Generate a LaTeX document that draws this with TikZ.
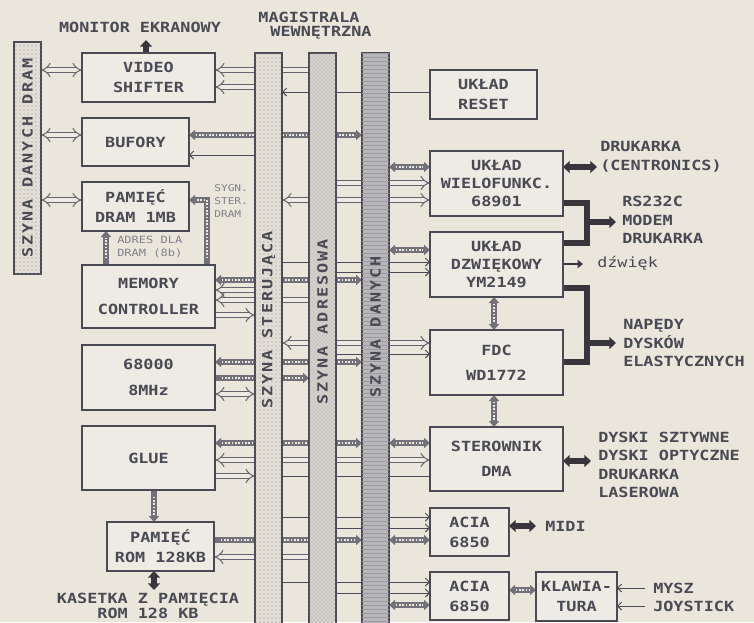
\documentclass[tikz,border=0pt]{standalone}
\usepackage{fontspec}
\usetikzlibrary{arrows.meta,patterns}
\newfontfamily\dm[FakeStretch=1.2]{DejaVu Sans Mono}
\newfontfamily\dmw[FakeStretch=1.2,LetterSpace=14]{DejaVu Sans Mono}
\definecolor{bgc}{HTML}{EAE6DC}
\definecolor{boxc}{HTML}{EEEBE4}
\definecolor{ink}{HTML}{4A4A54}
\definecolor{barc}{HTML}{727078}
\definecolor{darkc}{HTML}{38363C}
\definecolor{busl}{HTML}{E2DED6}
\definecolor{busm}{HTML}{D6D2CC}
\definecolor{busd}{HTML}{B8B6B8}
\pgfdeclarelayer{back}
\pgfdeclarelayer{wires}
\pgfsetlayers{back,wires,main}
\newcommand\mybox[6]{\node[boxst, minimum width={(#4-#2)*0.75pt}, minimum height={(#5-#3)*0.75pt}] (#1) at (#2,#3) {#6};}
\newcommand\mybus[6]{\node[busst, #6, minimum width={(#4-#2)*0.75pt}, minimum height={(#5-#3)*0.75pt}] (#1) at (#2,#3) {};}
\tikzset{
  tipH/.tip={Triangle[length=4.5pt,width=7.5pt]},
  tipB/.tip={Triangle[length=5pt,width=9pt]},
  tipT/.tip={Straight Barb[length=3pt,width=6pt]},
  tipO/.tip={Implies[length=4.5pt]},
  boxst/.style={draw=ink, line width=0.9pt, fill=boxc, anchor=north west, inner sep=0pt, outer sep=0pt,
     font=\dm\bfseries\fontsize{10.5}{15}\selectfont, text=ink, align=center},
  busst/.style={draw=ink, line width=0.8pt, anchor=north west, inner sep=0pt, outer sep=0pt},
  lbl/.style={font=\dm\bfseries\fontsize{10.5}{14}\selectfont, text=ink, inner sep=0pt},
  rlbl/.style={lbl, anchor=west, align=left},
  small/.style={font=\dm\fontsize{7.5}{9.5}\selectfont, text=ink!70, inner sep=0pt, anchor=west, align=left},
  buslbl/.style={font=\dmw\bfseries\fontsize{10.5}{14}\selectfont, text=ink, rotate=90, inner sep=0pt},
  hol/.style={draw=ink!85, double=boxc, double distance=3pt, line width=0.75pt},
  hat/.style={draw=barc, line width=3.8pt,
     postaction={draw=boxc, line width=0.9pt, dash pattern=on 1.2pt off 1.3pt, arrows=-, shorten >=5pt, shorten <=5pt}},
  thn/.style={draw=ink, line width=0.7pt},
  blk/.style={draw=darkc, line width=4.5pt},
}
\begin{document}
\begin{tikzpicture}[x=0.75pt,y=-0.75pt]
\useasboundingbox (0,0) rectangle (754,622);
\begin{pgfonlayer}{back}
\fill[bgc] (0,0) rectangle (754,622);
\end{pgfonlayer}

% buses
\mybus{drambus}{14}{42}{41}{274}{fill=busl, postaction={pattern=dots, pattern color=ink!60}}
\mybus{ster}{255}{53}{282}{640}{fill=busl, postaction={pattern=dots, pattern color=ink!60}}
\mybus{adr}{309}{53}{336}{640}{fill=busm, postaction={pattern=crosshatch dots, pattern color=ink!55}}
\mybus{dat}{362}{53}{389}{640}{fill=busd, postaction={pattern=horizontal lines, pattern color=ink!55}}

% boxes
\mybox{vs}{82}{53}{215}{102}{VIDEO\\SHIFTER}
\mybox{buf}{82}{118}{189}{166}{BUFORY}
\mybox{dram}{82}{182}{189}{231}{PAMIĘĆ\\DRAM 1MB}
\mybox{mc}{82}{265}{215}{328}{MEMORY\\[4pt]CONTROLLER}
\mybox{cpu}{82}{345}{215}{410}{68000\\[4pt]8MHz}
\mybox{glue}{82}{426}{215}{490}{GLUE}
\mybox{rom}{107}{522}{214}{571}{PAMIĘĆ\\ROM 128KB}
\mybox{reset}{430}{70}{537}{119}{UKŁAD\\RESET}
\mybox{mfp}{430}{151}{563}{216}{UKŁAD\\[-1.5pt]WIELOFUNKC.\\[-1.5pt]68901}
\mybox{snd}{430}{232}{563}{297}{UKŁAD\\[-1.5pt]DZWIĘKOWY\\[-1.5pt]YM2149}
\mybox{fdc}{430}{330}{563}{395}{FDC\\[4pt]WD1772}
\mybox{dma}{430}{427}{563}{491}{STEROWNIK\\[4pt]DMA}
\mybox{aciaa}{430}{508}{509}{556}{ACIA\\6850}
\mybox{aciab}{430}{572}{509}{620}{ACIA\\6850}
\mybox{kbd}{536}{572}{617}{621}{KLAWIA-\\TURA}

% bus labels
\node[buslbl] at (drambus.center) {SZYNA DANYCH DRAM};
\node[buslbl] at (ster.center |- 0,320) {SZYNA STERUJĄCA};
\node[buslbl] at (adr.center |- 0,322) {SZYNA ADRESOWA};
\node[buslbl] at (dat.center |- 0,327) {SZYNA DANYCH};

% titles and outside labels
\node[lbl] (tmon) at (140,27) {MONITOR EKRANOWY};
\node[lbl] (tmag) at (309,17) {MAGISTRALA};
\node[lbl] (twew) at (321,33) {WEWNĘTRZNA};
\node[rlbl] (tcen) at (600,157) {DRUKARKA\\(CENTRONICS)};
\node[rlbl] (trs) at (622,220) {RS232C\\MODEM\\DRUKARKA};
\node[lbl, anchor=west, font=\dm\fontsize{10.5}{14}\selectfont] (tdz) at (597,263) {dźwięk};
\node[rlbl] (tnap) at (623,343) {NAPĘDY\\DYSKÓW\\ELASTYCZNYCH};
\node[rlbl, font=\dm\bfseries\fontsize{10.5}{13.7}\selectfont] (tdys) at (598,465) {DYSKI SZTYWNE\\DYSKI OPTYCZNE\\DRUKARKA\\LASEROWA};
\node[rlbl] (tmidi) at (545,526) {MIDI};
\node[rlbl] (tmysz) at (653,588) {MYSZ};
\node[rlbl] (tjoy) at (653,606) {JOYSTICK};
\node[lbl] (tkas) at (148,600) {KASETKA Z PAMIĘCIA};
\node[lbl] (trom) at (148,613) {ROM 128 KB};
\node[small] (tadr) at (117,247) {ADRES DLA\\DRAM (8b)};
\node[small, font=\dm\fontsize{7}{10}\selectfont] (tsyg) at (214,201) {SYGN.\\STER.\\DRAM};

\coordinate (mon) at (146,40);
\coordinate (cen) at (597,167);
\coordinate (rsb) at (587,222);
\coordinate (rse) at (616,222);
\coordinate (dze) at (583,264);
\coordinate (npb) at (587,343);
\coordinate (npe) at (616,343);
\coordinate (dye) at (591,461);
\coordinate (mie) at (536,526);
\coordinate (mys) at (645,588);
\coordinate (joy) at (645,606);
\coordinate (kas) at (154,590);

\begin{pgfonlayer}{wires}
% DRAM data bus
\draw[hol, tipO-tipO] (drambus.east |- 0,70) -- (vs.west |- 0,70);
\draw[hol, tipO-tipO] (drambus.east |- 0,135) -- (buf.west |- 0,135);
\draw[hol, tipO-tipO] (drambus.east |- 0,200) -- (dram.west |- 0,200);
% monitor
\draw[blk, -tipB] (vs.north -| 146,0) -- (mon);
% video shifter
\draw[hol, -tipO] (adr.west |- 0,70) -- (vs.east |- 0,70);
\draw[hol, -tipO] (ster.west |- 0,87) -- (vs.east |- 0,87);
\draw[thn, -tipT] (reset.west |- 0,92) -- (ster.east |- 0,92);
% bufory
\draw[hat, tipH-tipH] (buf.east |- 0,135) -- (dat.west |- 0,135);
\draw[thn, -tipT] (ster.west |- 0,155) -- (buf.east |- 0,155);
% mfp
\draw[hat, tipH-tipH] (dat.east |- 0,167) -- (mfp.west |- 0,167);
\draw[hol, -tipO] (adr.east |- 0,183) -- (mfp.west |- 0,183);
\draw[hol, tipO-tipO] (ster.east |- 0,200) -- (mfp.west |- 0,200);
% dram control
\draw[hat, -tipH] (mc.north -| 106,0) -- (dram.south -| 106,0);
\draw[hat, -tipH] (mc.north -| 207,0) |- (dram.east |- 0,200);
% sound
\draw[hat, tipH-tipH] (dat.east |- 0,250) -- (snd.west |- 0,250);
\draw[thn, -tipT] (ster.east |- 0,262) -- (snd.west |- 0,262);
\draw[thn, -tipT] (adr.east |- 0,272) -- (snd.west |- 0,272);
% memory controller
\draw[hat, tipH-tipH] (mc.east |- 0,280) -- (dat.west |- 0,280);
\draw[hol, -tipO] (ster.west |- 0,290) -- (mc.east |- 0,290);
\draw[hol, -tipO] (adr.west |- 0,300) -- (mc.east |- 0,300);
\draw[hol, -tipO] (mc.east |- 0,315) -- (ster.west |- 0,315);
% fdc
\draw[hol, tipO-tipO] (ster.east |- 0,343) -- (fdc.west |- 0,343);
\draw[thn, -tipT] (adr.east |- 0,354) -- (fdc.west |- 0,354);
% cpu
\draw[hat, tipH-tipH] (cpu.east |- 0,362) -- (dat.west |- 0,362);
\draw[hat, -tipH] (cpu.east |- 0,378) -- (adr.west |- 0,378);
\draw[hol, tipO-tipO] (cpu.east |- 0,394) -- (ster.west |- 0,394);
% glue
\draw[hat, tipH-tipH] (glue.east |- 0,443) -- (dat.west |- 0,443);
\draw[hat, tipH-tipH] (dat.east |- 0,443) -- (dma.west |- 0,443);
\draw[hol, -tipO] (adr.west |- 0,460) -- (glue.east |- 0,460);
\draw[hol, -tipO] (adr.east |- 0,460) -- (dma.west |- 0,460);
\draw[hol, -tipO] (glue.east |- 0,476) -- (ster.west |- 0,476);
\draw[thn] (ster.east |- 0,476) -- (dma.west |- 0,476);
\draw[hat, -tipH] (glue.south -| 154,0) -- (rom.north -| 154,0);
% rom
\draw[hat, -tipH] (rom.east |- 0,540) -- (dat.west |- 0,540);
\draw[hol, -tipO] (adr.west |- 0,557) -- (rom.east |- 0,557);
\draw[blk, tipB-tipB] (rom.south -| 154,0) -- (kas);
% acia 1
\draw[thn, -tipT] (ster.east |- 0,517) -- (aciaa.west |- 0,517);
\draw[thn, -tipT] (adr.east |- 0,528) -- (aciaa.west |- 0,528);
\draw[hat, tipH-tipH] (dat.east |- 0,540) -- (aciaa.west |- 0,540);
% acia 2
\draw[thn, -tipT] (ster.east |- 0,582) -- (aciab.west |- 0,582);
\draw[thn, -tipT] (adr.east |- 0,593) -- (aciab.west |- 0,593);
\draw[hat, tipH-tipH] (dat.east |- 0,605) -- (aciab.west |- 0,605);
% right side externals
\draw[blk, tipB-tipB] (mfp.east |- 0,167) -- (cen);
\draw[blk, line join=miter] (mfp.east |- 0,203) -| (587,243) -- (snd.east |- 0,243);
\draw[blk, -tipB] (rsb) -- (rse);
\draw[draw=darkc, line width=2pt, -{Triangle[length=4pt,width=6pt]}] (snd.east |- 0,264) -- (dze);
\draw[blk, line join=miter] (snd.east |- 0,288) -| (587,362) -- (fdc.east |- 0,362);
\draw[blk, -tipB] (npb) -- (npe);
\draw[hat, tipH-tipH] (snd.south -| 494,0) -- (fdc.north -| 494,0);
\draw[hat, tipH-tipH] (fdc.south -| 494,0) -- (dma.north -| 494,0);
\draw[blk, tipB-tipB] (dma.east |- 0,461) -- (dye);
\draw[blk, tipB-tipB] (aciaa.east |- 0,526) -- (mie);
\draw[hat, tipH-tipH] (aciab.east |- 0,590) -- (kbd.west |- 0,590);
\draw[thn, -tipT] (mys) -- (kbd.east |- 0,588);
\draw[thn, -tipT] (joy) -- (kbd.east |- 0,606);
\end{pgfonlayer}
\end{tikzpicture}
\end{document}
